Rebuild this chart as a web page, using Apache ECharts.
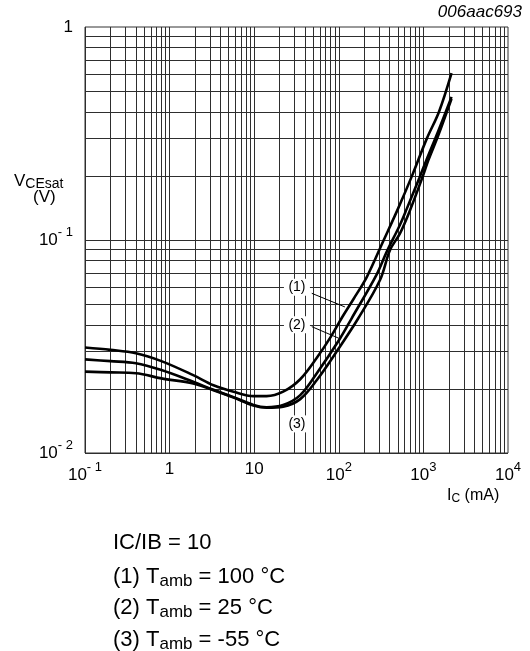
<!DOCTYPE html>
<html><head><meta charset="utf-8">
<script src="https://cdn.jsdelivr.net/npm/echarts@6/dist/echarts.min.js"></script>
<style>html,body{margin:0;padding:0;background:#fff}#c{width:530px;height:651px}</style>
</head><body><div id="c"></div>
<script>
// Curve (1) Tamb = 100 °C
const ic1 = [0.1, 0.2, 0.4, 0.8, 1.9, 3.3, 5.7, 9.8, 14, 22, 35, 55, 80, 110, 150, 214, 340, 500, 733, 1100, 1530, 2150];
const vce1 = [0.0313, 0.0305, 0.0294, 0.0270, 0.0232, 0.0208, 0.0194, 0.0185, 0.0185, 0.0194, 0.0222, 0.028, 0.035, 0.0435, 0.053, 0.067, 0.1, 0.14, 0.2, 0.3, 0.4, 0.607];
// Curve (2) Tamb = 25 °C
const ic2 = [0.1, 0.2, 0.4, 0.8, 1.9, 3.3, 5.7, 9.8, 14, 22, 35, 55, 103, 142, 281, 368, 529, 635, 893, 1075, 1500, 2150];
const vce2 = [0.0275, 0.0270, 0.0264, 0.0245, 0.0216, 0.0198, 0.0183, 0.0168, 0.0164, 0.0168, 0.0187, 0.0237, 0.0344, 0.0429, 0.069, 0.088, 0.118, 0.140, 0.195, 0.235, 0.325, 0.47];
// Curve (3) Tamb = -55 °C
const ic3 = [0.1, 0.2, 0.4, 0.8, 1.9, 3.3, 5.7, 9.8, 14, 22, 35, 55, 100, 170, 307, 403, 529, 695, 979, 1143, 1500, 2150];
const vce3 = [0.0241, 0.0239, 0.0237, 0.0224, 0.0212, 0.0197, 0.0182, 0.0167, 0.0163, 0.0165, 0.0179, 0.022, 0.031, 0.0429, 0.0649, 0.0897, 0.1075, 0.138, 0.198, 0.2365, 0.31, 0.46];

const xTickValues = [0.1, 1, 10, 100, 1000, 10000];
const xTickLabels = ['10{sup|- 1}', '1', '10', '10{sup|2}', '10{sup|3}', '10{sup|4}'];
const yTickValues = [0.01, 0.1, 1];
const yTickLabels = ['10{sup|- 2}', '10{sup|- 1}', '1'];

const curveLabels = ['(1)', '(2)', '(3)'];
const curveLabelPos = [[32, 0.06], [32, 0.04], [32, 0.0137]];
const leaders = [[[47.9, 0.0562], [118, 0.0485]], [[47.9, 0.0392], [103, 0.0344]]];

const noteLines = ['IC/IB = 10', '(1) T{sub|amb} = 100 °C', '(2) T{sub|amb} = 25 °C', '(3) T{sub|amb} = -55 °C'];

// grid lines (decades + 2..9 multiples)
const gridX = [], gridY = [];
[0.1, 1, 10, 100, 1000].forEach(d => { for (let k = 1; k <= 9; k++) gridX.push(d * k); });
[0.01, 0.1].forEach(d => { for (let k = 1; k <= 9; k++) gridY.push(d * k); });

function pick(vals, labels, v) {
  const i = vals.findIndex(t => Math.abs(Math.log10(t) - Math.log10(v)) < 1e-6);
  return i >= 0 ? labels[i] : '';
}
const FONT = 'Liberation Sans, Arial, sans-serif';
const supRich = { sup: { fontSize: 13, verticalAlign: 'top', padding: [0, 0, 16, 0], fontFamily: FONT, color: '#000' } };

const chart = echarts.init(document.getElementById('c'), null, { renderer: 'canvas' });
const lineSeries = [[ic1, vce1], [ic2, vce2], [ic3, vce3]].map(([xs, ys]) => ({
  type: 'line', data: xs.map((x, i) => [x, ys[i]]), showSymbol: false, symbol: 'none',
  smooth: 0.35, z: 5, lineStyle: { color: '#000', width: 2.6 }, silent: true
}));

chart.setOption({
  animation: false,
  backgroundColor: '#fff',
  grid: { left: 85, top: 27, right: 22, bottom: 198, show: true, borderColor: '#333', borderWidth: 1 },
  xAxis: {
    type: 'log', logBase: 10, min: 0.1, max: 10000,
    axisLine: { show: false }, axisTick: { show: false }, splitLine: { show: false },
    axisLabel: { fontFamily: FONT, fontSize: 17, color: '#000', margin: 8,
      formatter: v => pick(xTickValues, xTickLabels, v), rich: supRich, showMinLabel: true, showMaxLabel: true }
  },
  yAxis: {
    type: 'log', logBase: 10, min: 0.01, max: 1,
    axisLine: { show: false }, axisTick: { show: false }, splitLine: { show: false },
    axisLabel: { fontFamily: FONT, fontSize: 17, color: '#000', margin: 12,
      formatter: v => pick(yTickValues, yTickLabels, v), rich: supRich, showMinLabel: true, showMaxLabel: true }
  },
  series: [
    { type: 'line', data: [], symbol: 'none', z: 1, silent: true,
      markLine: { silent: true, symbol: 'none', animation: false, label: { show: false },
        lineStyle: { color: '#2e2e2e', width: 1, type: 'solid' },
        data: gridX.map(v => ({ xAxis: v })).concat(gridY.map(v => ({ yAxis: v }))) } },
    ...lineSeries,
    { type: 'line', data: [], symbol: 'none', z: 10, silent: true,
      markLine: { silent: true, symbol: 'none', animation: false, label: { show: false },
        lineStyle: { color: '#000', width: 1, type: 'solid' },
        data: leaders.map(p => [{ coord: p[0] }, { coord: p[1] }]) },
      markPoint: { silent: true, animation: false,
        data: curveLabels.map((t, i) => ({ coord: curveLabelPos[i], symbol: 'rect', symbolSize: [26, 17],
          itemStyle: { color: '#fff' },
          label: { show: true, position: 'inside', formatter: t, color: '#000', fontSize: 14, fontFamily: FONT } })) } }
  ],
  graphic: [
    { type: 'text', x: 522, y: 12, style: { text: '006aac693', font: 'italic 17px ' + FONT, fill: '#000', textAlign: 'right', textVerticalAlign: 'middle' } },
    { type: 'text', x: 14, y: 171, style: { text: 'V{sub|CEsat}', fill: '#000', font: '17px ' + FONT,
      rich: { sub: { fontSize: 14, verticalAlign: 'bottom', fontFamily: FONT, padding: [6, 0, 0, 0] } } } },
    { type: 'text', x: 33, y: 189, style: { text: '(V)', fill: '#000', font: '17px ' + FONT } },
    { type: 'text', x: 447, y: 487, style: { text: 'I{sub|C} (mA)', fill: '#000', font: '16px ' + FONT,
      rich: { sub: { fontSize: 12, verticalAlign: 'bottom', fontFamily: FONT, padding: [6, 0, 0, 0] } } } },
    ...noteLines.map((t, i) => ({ type: 'text', x: 113, y: 532 + i * 31.5,
      style: { text: t, fill: '#000', font: '22px ' + FONT,
        rich: { sub: { fontSize: 17, verticalAlign: 'bottom', fontFamily: FONT, padding: [9, 0, 0, 0] } } } }))
  ]
});
</script></body></html>
